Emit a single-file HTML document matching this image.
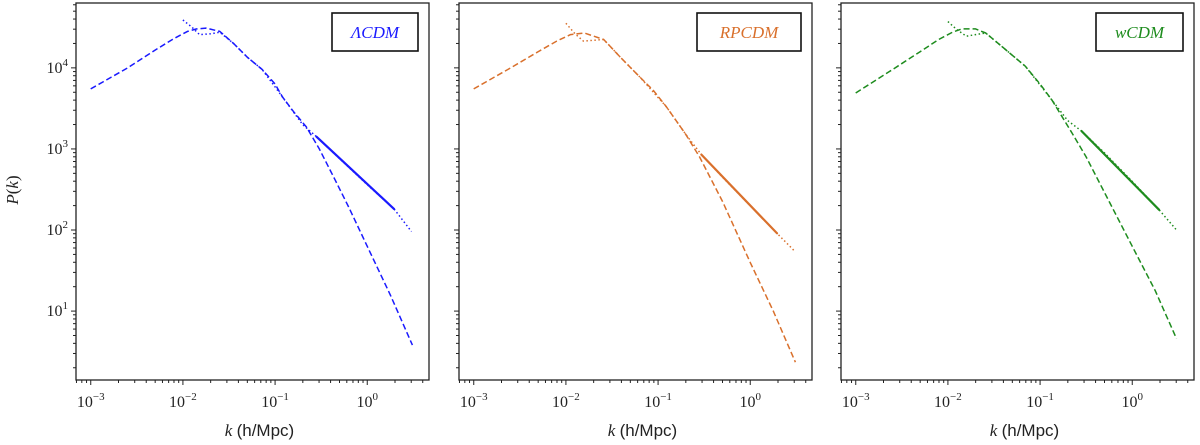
<!DOCTYPE html>
<html><head><meta charset="utf-8">
<style>
html,body{margin:0;padding:0;background:#fff;width:1200px;height:445px;overflow:hidden}
svg{display:block}
text{font-family:"Liberation Serif",serif;fill:#222}
</style></head>
<body>
<svg id="chart" width="1200" height="445" xmlns="http://www.w3.org/2000/svg"></svg>
<script>
// Data: log10(k) and log10(P) pairs per model
const models = ["ΛCDM", "RPCDM", "wCDM"];
const colors = ["#1a1aff", "#d9702c", "#1e8c1e"];
const linearLogK = [
  [-3, -2.6, -2.3, -2.1, -1.95, -1.85, -1.75, -1.6, -1.45, -1.3, -1.14, -1.0, -0.92, -0.8, -0.66, -0.52, -0.35, -0.2, 0, 0.25, 0.49],
  [-3, -2.6, -2.3, -2.1, -1.95, -1.8, -1.59, -1.4, -1.2, -1.05, -0.91, -0.7, -0.55, -0.3, 0, 0.25, 0.49],
  [-3, -2.6, -2.3, -2.1, -1.95, -1.85, -1.7, -1.59, -1.4, -1.16, -1.0, -0.87, -0.65, -0.5, -0.25, 0, 0.25, 0.48]
];
const linearLogP = [
  [3.74, 4.0, 4.22, 4.36, 4.45, 4.48, 4.49, 4.45, 4.3, 4.13, 3.98, 3.8, 3.64, 3.46, 3.27, 3.0, 2.62, 2.28, 1.8, 1.2, 0.58],
  [3.74, 4.0, 4.2, 4.33, 4.41, 4.43, 4.35, 4.12, 3.89, 3.72, 3.52, 3.18, 2.9, 2.35, 1.6, 1.0, 0.37],
  [3.69, 3.98, 4.2, 4.35, 4.44, 4.48, 4.48, 4.43, 4.25, 4.02, 3.8, 3.6, 3.19, 2.9, 2.35, 1.8, 1.25, 0.66]
];
const halofitLogK = [
  [-2.0, -1.9, -1.82, -1.7, -1.6, -1.45, -1.3, -1.14, -0.92, -0.7, -0.55, -0.3, 0, 0.29, 0.48],
  [-2.0, -1.9, -1.81, -1.7, -1.59, -1.4, -1.2, -0.91, -0.7, -0.53, -0.3, 0, 0.29, 0.49],
  [-2.0, -1.9, -1.8, -1.7, -1.59, -1.4, -1.16, -0.87, -0.7, -0.55, -0.3, 0, 0.29, 0.48]
];
const halofitLogP = [
  [4.59, 4.5, 4.41, 4.42, 4.44, 4.3, 4.13, 3.98, 3.64, 3.3, 3.15, 2.88, 2.56, 2.26, 1.98],
  [4.55, 4.42, 4.33, 4.34, 4.35, 4.12, 3.89, 3.52, 3.18, 2.93, 2.65, 2.3, 1.96, 1.73],
  [4.57, 4.47, 4.39, 4.41, 4.43, 4.25, 4.02, 3.6, 3.35, 3.22, 2.95, 2.6, 2.25, 2.0]
];
const simLogK = [[-0.55, 0.29], [-0.53, 0.29], [-0.55, 0.29]];
const simLogP = [[3.15, 2.26], [2.93, 1.96], [3.22, 2.25]];
const xTickExp = [-3, -2, -1, 0];
const yTickExp = [1, 2, 3, 4];

const NS = "http://www.w3.org/2000/svg";
const svg = document.getElementById("chart");
function mk(tag, attrs, parent) {
  const e = document.createElementNS(NS, tag);
  for (const k in attrs) e.setAttribute(k, attrs[k]);
  (parent || svg).appendChild(e);
  return e;
}
const panelLeft = [76, 459, 841];
const PW = 353, TOP = 3, BOT = 380;
const X0 = -3.16, X1 = 0.67, Y0 = 0.15, Y1 = 4.8;

panelLeft.forEach((L, i) => {
  const g = mk("g", {});
  
  
  const xs = v => L + (v - X0) / (X1 - X0) * PW;
  const ys = v => BOT - (v - Y0) / (Y1 - Y0) * (BOT - TOP);
  for (let d = -4; d <= 0; d++) for (let m = 1; m < 10; m++) {
    const v = d + Math.log10(m);
    if (v < X0 || v > X1) continue;
    const x = xs(v);
    mk("line", {x1: x, x2: x, y1: BOT, y2: BOT + (m === 1 ? 5 : 3), stroke: "#222", "stroke-width": 1}, g);
  }
  for (let d = 0; d <= 4; d++) for (let m = 1; m < 10; m++) {
    const v = d + Math.log10(m);
    if (v < Y0 || v > Y1) continue;
    const y = ys(v);
    mk("line", {x1: L, x2: L - (m === 1 ? 5 : 3), y1: y, y2: y, stroke: "#222", "stroke-width": 1}, g);
  }
  xTickExp.forEach(e => {
    const t = mk("text", {x: xs(e), y: 407, "text-anchor": "middle", "font-size": 16}, g);
    
    
    t.innerHTML = '10<tspan dy="-7" font-size="11">' + (e < 0 ? '−' + (-e) : e) + '</tspan>';
  });
  if (i === 0) yTickExp.forEach(e => {
    const t = mk("text", {x: L - 8, y: ys(e) + 5, "text-anchor": "end", "font-size": 16}, g);
    
    
    t.innerHTML = '10<tspan dy="-7" font-size="11">' + e + '</tspan>';
  });
  const xl = mk("text", {x: L + PW / 2 + 7, y: 436, "text-anchor": "middle", "font-size": 17}, g);
  
  
  xl.innerHTML = '<tspan font-style="italic">k</tspan> <tspan font-family="Liberation Sans, sans-serif">(h/Mpc)</tspan>';

  const c = colors[i];
  const pts = (ks, ps) => ks.map((k, j) => xs(k).toFixed(1) + "," + ys(ps[j]).toFixed(1)).join(" ");
  const lin = mk("polyline", {points: pts(linearLogK[i], linearLogP[i]), fill: "none", stroke: c, "stroke-width": 1.5, "stroke-dasharray": "6,3", "stroke-linejoin": "round"}, g);
  
  
  const hf = mk("polyline", {points: pts(halofitLogK[i], halofitLogP[i]), fill: "none", stroke: c, "stroke-width": 1.5, "stroke-dasharray": "1.5,2.5", "stroke-linejoin": "round"}, g);
  
  
  const sm = mk("polyline", {points: pts(simLogK[i], simLogP[i]), fill: "none", stroke: c, "stroke-width": 2.2, "stroke-linecap": "round"}, g);
  
  

  const fr = mk("rect", {x: L, y: TOP, width: PW, height: BOT - TOP, fill: "none", stroke: "#222", "stroke-width": 1.3}, g);
  
  
  const lw = i === 0 ? 86 : (i === 1 ? 104 : 87);
  const lx = L + PW - 11 - lw;
  const lg = mk("g", {}, g);
  
  
  mk("rect", {x: lx, y: 13, width: lw, height: 38, fill: "#fff", stroke: "#111", "stroke-width": 1.6}, lg);
  const lt = mk("text", {x: lx + lw / 2, y: 38, "text-anchor": "middle", "font-size": 17, "font-style": "italic", style: "fill:" + c}, lg);
  
  
  lt.textContent = models[i];
});
const yl = mk("text", {x: 18, y: 190, "text-anchor": "middle", "font-size": 17, transform: "rotate(-90 18 190)"});


yl.innerHTML = '<tspan font-style="italic">P</tspan>(<tspan font-style="italic">k</tspan>)';
</script>
</body></html>
